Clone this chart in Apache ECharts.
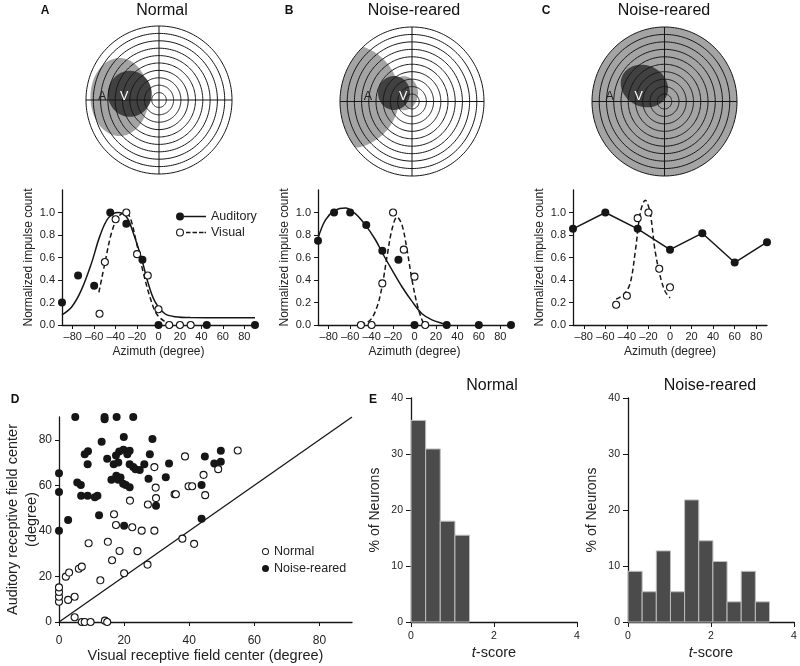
<!DOCTYPE html>
<html><head><meta charset="utf-8">
<script src="https://cdn.jsdelivr.net/npm/echarts@6.0.0/dist/echarts.min.js"></script>
<style>html,body{margin:0;padding:0;background:#fff}#c{width:800px;height:666px}</style>
</head><body><div id="c"></div>
<script>
// ================= DATA =================
// receptive-field diagrams (azimuth/elevation in degrees): [centerAz, centerEl, radiusAz, radiusEl, rotationDeg]
const ringRadii = [9, 18, 27, 36, 45, 54, 63, 72, 81, 90];
const crossLines = [[-90, 0, 90, 0], [0, -90, 0, 90]];
const fieldsA = [[-48.7, 3.6, 35.8, 47.4, 0], [-36, 7.5, 27, 28, 0]];
const fieldsB = [[-81, 6, 65, 63, 0], [-10, 10, 17.5, 20.5, 0], [-22.5, 10.3, 20, 20.5, 0]];
const fieldsC = [[0, 0, 90, 90, 0], [-25, 18.7, 30, 25, -22]];
const fieldShadeA = ['light', 'dark'];
const fieldShadeB = ['light', 'light', 'dark'];
const fieldShadeC = ['light', 'dark'];
const labelPosA = [[-70, 4], [-43, 4]];
const labelPosB = [[-55, 6], [-11, 6]];
const labelPosC = [[-68, 6], [-32, 6]];
const fieldLabels = ['A', 'V'];

// Panel A tuning curves
const azA_aud = [-90, -75, -60, -45, -30, -15, 0, 45, 90];
const valA_aud = [0.20, 0.44, 0.35, 1.0, 0.90, 0.58, 0, 0, 0];
const azA_vis = [-55, -50, -40, -30, -20, -10, 0, 10, 20, 30];
const valA_vis = [0.10, 0.56, 0.94, 1.0, 0.63, 0.44, 0.14, 0, 0, 0];
const fitA_aud_x = [-90, -81, -72, -62.5, -54.7, -46.9, -37.6, -29.8, -23.6, -15.8, -9.6, -3.4, 6, 15.3, 30, 60, 90];
const fitA_aud_y = [0.089, 0.16, 0.31, 0.55, 0.79, 0.95, 1.0, 0.96, 0.82, 0.59, 0.37, 0.21, 0.10, 0.074, 0.066, 0.065, 0.065];
const fitA_vis_x = [-55.6, -50, -43.8, -37.6, -31.3, -26.7, -20.5, -14.3, -8, -1.9, 6, 13.7];
const fitA_vis_y = [0.29, 0.55, 0.82, 0.96, 1.0, 0.96, 0.73, 0.47, 0.25, 0.10, 0.03, 0];

// Panel B tuning curves
const azB_aud = [-90, -75, -60, -45, -30, -15, 0, 30, 60, 90];
const valB_aud = [0.75, 1.0, 1.0, 0.89, 0.66, 0.58, 0, 0, 0, 0];
const azB_vis = [-50, -40, -30, -20, -10, 0, 10];
const valB_vis = [0, 0, 0.37, 1.0, 0.67, 0.43, 0];
const fitB_aud_x = [-90, -83, -73.9, -64.5, -55.2, -45.9, -36.6, -28.8, -21, -11.7, -2.3, 7, 16.3, 27.1, 30];
const fitB_aud_y = [0.77, 0.935, 1.02, 1.04, 0.99, 0.89, 0.76, 0.62, 0.49, 0.34, 0.21, 0.10, 0.045, 0.01, 0];
const fitB_vis_x = [-50.5, -41.2, -35, -30.3, -25.6, -21, -16.3, -11.7, -7, -2.3, 2.3, 7, 10];
const fitB_vis_y = [0, 0.045, 0.16, 0.34, 0.61, 0.85, 0.96, 0.89, 0.67, 0.40, 0.19, 0.045, 0];

// Panel C tuning curves
const azC_aud = [-90, -60, -30, 0, 30, 60, 90];
const valC_aud = [0.855, 1.0, 0.855, 0.67, 0.816, 0.555, 0.736];
const azC_vis = [-50, -40, -30, -20, -10, 0];
const valC_vis = [0.18, 0.26, 0.95, 1.0, 0.50, 0.335];
const fitC_vis_x = [-50, -43, -37, -32, -27.5, -23, -18.5, -14, -9, -4.6, 0];
const fitC_vis_y = [0.23, 0.27, 0.37, 0.67, 1.0, 1.11, 1.0, 0.67, 0.43, 0.30, 0.24];

// Panel D scatter
const normalX = [0, 0, 0, 0, 2.1, 3.1, 2.8, 4.8, 4.8, 6.1, 7, 7, 7.9, 9.7, 14.1, 14.8, 9.1, 12.7, 15, 16.3, 16.9, 17.5, 18.6, 20, 22.5, 21.8, 24.1, 25.4, 27.2, 27.3, 29.3, 29.3, 29.7, 29.8, 35.5, 35.9, 37.9, 38.7, 39.8, 40.9, 41.5, 44.4, 44.9, 48.9, 54.9];
const normalY = [8.9, 11.1, 13.2, 15.2, 19.9, 21.7, 9.7, 11.1, 2.1, 23.4, 24.3, 0, 0, 0, 0.6, 0, 34.6, 18.3, 35.2, 27.1, 47.3, 42.6, 31.2, 21.4, 41.6, 53.3, 31.1, 40.1, 25.2, 51.6, 40.1, 68, 59, 54.4, 56.1, 56.1, 36.6, 72.7, 59.6, 59.6, 34.3, 64.6, 55.7, 67.1, 75.3];
const noiseX = [5, 14, 14, 17.7, 22.8, 28.7, 19.9, 13.1, 8.9, 7.9, 14.8, 17.5, 18.5, 19.8, 21, 21.7, 8.8, 16.8, 18.2, 21.7, 22.8, 23.5, 24.8, 26.2, 27.9, 33.8, 44.8, 47.7, 49.7, 49.7, 32.8, 27.5, 16.1, 17.6, 18.2, 18.9, 19.7, 20.5, 21.7, 5.6, 6.7, 6.8, 8.8, 11, 11.8, 0, 0, 0, 2.8, 12.3, 20, 29.8, 43.8, 43.8];
const noiseY = [90, 90, 89, 90, 90, 80.3, 81.2, 79.1, 75, 73.7, 71.7, 73.1, 74.9, 75.6, 73.7, 75.2, 69.3, 69.3, 70, 69.3, 68, 67.1, 66.7, 69.3, 73.7, 69.6, 72.7, 69.6, 75.2, 70.3, 63.6, 62.9, 62.4, 64.2, 62.4, 63.4, 60.7, 60.2, 59.2, 61.2, 60.1, 55.4, 55.4, 54.8, 55.4, 65.3, 57.1, 40.1, 44.8, 46.9, 42.3, 51, 60.1, 45.3];
const identityLine = [[0, 0], [90, 90]];

// Panel E histograms
const histNormalEdges = [0, 0.353, 0.705, 1.058, 1.41];
const histNormalPct = [36.0, 30.9, 18.0, 15.5];
const histNoiseEdges = [0, 0.341, 0.682, 1.023, 1.364, 1.705, 2.046, 2.387, 2.728, 3.069, 3.41];
const histNoisePct = [9.05, 5.4, 12.7, 5.4, 21.8, 14.5, 10.8, 3.6, 9.05, 3.6];

// tick labels
const azTicks = [-80, -60, -40, -20, 0, 20, 40, 60, 80];
const impTicks = [0, 0.2, 0.4, 0.6, 0.8, 1.0];
const dTicks = [0, 20, 40, 60, 80];

// ================= STYLE / HELPERS =================
const F = 'Liberation Sans, Arial, Helvetica, sans-serif';
const ink = '#161616';
const shade = {light: '#a4a4a4', dark: '#414141'};
const zip = (xs, ys) => xs.map((x, i) => [x, ys[i]]);

function diagramSeries(gi, fields, shades, labelPos) {
  const out = [];
  out.push({
    type: 'custom', xAxisIndex: gi, yAxisIndex: gi, z: 1, silent: true,
    data: fields.map((f, i) => ({value: f})),
    renderItem: (p, api) => {
      const cx = api.value(0), cy = api.value(1), rx = api.value(2), ry = api.value(3), rot = api.value(4) * Math.PI / 180;
      const R = 90, N = 240, pts = [];
      const c = Math.cos(rot), s = Math.sin(rot);
      const inside = (x, y) => { const dx = x - cx, dy = y - cy; const u = dx * c + dy * s, v = -dx * s + dy * c; return u * u / (rx * rx) + v * v / (ry * ry) <= 1 + 1e-6; };
      for (let k = 0; k < N; k++) {
        const t = 2 * Math.PI * k / N;
        const u = rx * Math.cos(t), v = ry * Math.sin(t);
        const x = cx + u * c - v * s, y = cy + u * s + v * c;
        if (x * x + y * y <= R * R + 1e-6) pts.push([x, y]);
        const ox = R * Math.cos(t), oy = R * Math.sin(t);
        if (inside(ox, oy)) pts.push([ox, oy]);
      }
      let mx = 0, my = 0; pts.forEach(q => { mx += q[0]; my += q[1]; }); mx /= pts.length; my /= pts.length;
      pts.sort((a, b) => Math.atan2(a[1] - my, a[0] - mx) - Math.atan2(b[1] - my, b[0] - mx));
      return {type: 'polygon', shape: {points: pts.map(q => api.coord(q))}, style: {fill: shade[shades[p.dataIndex]]}};
    }
  });
  out.push({
    type: 'custom', xAxisIndex: gi, yAxisIndex: gi, z: 2, silent: true,
    data: ringRadii.map(r => [r]),
    renderItem: (p, api) => {
      const r = api.value(0), pts = [];
      for (let k = 0; k < 180; k++) { const t = 2 * Math.PI * k / 180; pts.push(api.coord([r * Math.cos(t), r * Math.sin(t)])); }
      return {type: 'polygon', shape: {points: pts}, style: {fill: 'none', stroke: ink, lineWidth: 1}};
    }
  });
  out.push({
    type: 'custom', xAxisIndex: gi, yAxisIndex: gi, z: 3, silent: true,
    data: crossLines,
    renderItem: (p, api) => {
      const a = api.coord([api.value(0), api.value(1)]), b = api.coord([api.value(2), api.value(3)]);
      return {type: 'line', shape: {x1: a[0], y1: a[1], x2: b[0], y2: b[1]}, style: {stroke: ink, lineWidth: 1}};
    }
  });
  out.push({
    type: 'custom', xAxisIndex: gi, yAxisIndex: gi, z: 4, silent: true,
    data: labelPos,
    renderItem: (p, api) => {
      const a = api.coord([api.value(0), api.value(1)]);
      const t = fieldLabels[p.dataIndex];
      return {type: 'text', x: a[0], y: a[1], style: {text: t, fill: t === 'V' ? '#ffffff' : '#222', fontSize: 12.5, fontFamily: F, align: 'center', verticalAlign: 'middle'}};
    }
  });
  return out;
}

function diagAxis(gi) { return {type: 'value', gridIndex: gi, min: -90, max: 90, show: false}; }

const axLine = {show: true, onZero: false, lineStyle: {color: ink, width: 1.3}};
function lineX(gi) {
  return {type: 'value', gridIndex: gi, min: -90, max: 90,
    axisLine: axLine, splitLine: {show: false},
    axisTick: {show: true, length: 4, customValues: azTicks, lineStyle: {color: ink, width: 1}},
    axisLabel: {customValues: azTicks, fontSize: 11, color: '#222', fontFamily: F, margin: 6, formatter: v => v < 0 ? '\u2013' + (-v) : String(v)},
    name: 'Azimuth (degree)', nameLocation: 'middle', nameGap: 21, nameMoveOverlap: false, nameTextStyle: {fontSize: 12, color: '#222', fontFamily: F}};
}
function lineY(gi) {
  return {type: 'value', gridIndex: gi, min: 0, max: 1.2,
    axisLine: axLine, splitLine: {show: false},
    axisTick: {show: true, length: 4, customValues: impTicks, lineStyle: {color: ink, width: 1}},
    axisLabel: {customValues: impTicks, fontSize: 11, color: '#222', fontFamily: F, margin: 7, formatter: v => v.toFixed(1)},
    name: 'Normalized impulse count', nameLocation: 'middle', nameGap: 27, nameMoveOverlap: false, nameTextStyle: {fontSize: 12, color: '#222', fontFamily: F}};
}
function histX(gi) {
  return {type: 'value', gridIndex: gi, min: 0, max: 4, interval: 2,
    axisLine: axLine, splitLine: {show: false},
    axisTick: {show: true, length: 5, lineStyle: {color: ink}},
    axisLabel: {fontSize: 10.5, color: '#222', fontFamily: F, margin: 9},
    name: '{i|t}-score', nameLocation: 'middle', nameGap: 23, nameMoveOverlap: false,
    nameTextStyle: {fontSize: 14.5, color: '#222', fontFamily: F, rich: {i: {fontStyle: 'italic', fontSize: 14.5, fontFamily: F, color: '#222'}}}};
}
function histY(gi) {
  return {type: 'value', gridIndex: gi, min: 0, max: 40, interval: 10,
    axisLine: axLine, splitLine: {show: false},
    axisTick: {show: true, length: 5, lineStyle: {color: ink}},
    axisLabel: {fontSize: 10.5, color: '#222', fontFamily: F, margin: 8},
    name: '% of Neurons', nameLocation: 'middle', nameGap: 29, nameMoveOverlap: false, nameTextStyle: {fontSize: 14, color: '#222', fontFamily: F}};
}
function histSeries(gi, edges, pct) {
  return {type: 'custom', xAxisIndex: gi, yAxisIndex: gi, silent: true,
    data: pct.map((v, i) => [edges[i], edges[i + 1], v]),
    encode: {x: [0, 1], y: 2},
    renderItem: (p, api) => {
      const a = api.coord([api.value(0), api.value(2)]), b = api.coord([api.value(1), 0]);
      return {type: 'rect', shape: {x: a[0], y: a[1], width: b[0] - a[0], height: b[1] - a[1]}, style: {fill: '#4b4b4b', stroke: '#bdbdbd', lineWidth: 1}};
    }};
}

const filled = (name, gi, data, size) => ({name, type: 'scatter', xAxisIndex: gi, yAxisIndex: gi, data, symbol: 'circle', symbolSize: size || 8, z: 5, itemStyle: {color: ink, borderWidth: 0, opacity: 1}, silent: true});
const open = (name, gi, data, size) => ({name, type: 'scatter', xAxisIndex: gi, yAxisIndex: gi, data, symbol: 'circle', symbolSize: size || 7, z: 6, itemStyle: {color: '#fff', borderColor: ink, borderWidth: 1.1, opacity: 1}, silent: true});
const curve = (name, gi, data, dashed, smooth) => ({name, type: 'line', xAxisIndex: gi, yAxisIndex: gi, data, smooth: smooth === undefined ? 0.35 : smooth, symbol: 'circle', showSymbol: false, z: 4, color: ink, itemStyle: {color: ink, borderWidth: 0}, lineStyle: {color: ink, width: 1.5, type: dashed ? [5, 3] : 'solid'}, silent: true});

const txt = (x, y, t, size, bold) => ({type: 'text', x, y, silent: true, style: {text: t, fill: '#111', fontSize: size, fontWeight: bold ? 'bold' : 'normal', fontFamily: F, align: 'center', verticalAlign: 'middle'}});

// ================= OPTION =================
const grids = [
  {left: 86, top: 26, width: 146, height: 148},
  {left: 340, top: 27, width: 144, height: 149},
  {left: 592, top: 27, width: 145, height: 149},
  {left: 62, top: 190, width: 193, height: 135},
  {left: 318, top: 190, width: 193, height: 135},
  {left: 573, top: 190, width: 194, height: 135},
  {left: 59, top: 417, width: 293, height: 205},
  {left: 411, top: 398, width: 166, height: 224},
  {left: 628, top: 398, width: 166, height: 224}
].map(g => Object.assign({outerBoundsMode: 'none', containLabel: false}, g));

const ringIcon = 'path://M0,4A4,4 0 1 1 8,4A4,4 0 1 1 0,4Z M1.1,4A2.9,2.9 0 1 0 6.9,4A2.9,2.9 0 1 0 1.1,4Z';
const option = {
  animation: false,
  backgroundColor: '#fff',
  textStyle: {fontFamily: F},
  grid: grids,
  xAxis: [diagAxis(0), diagAxis(1), diagAxis(2), lineX(3), lineX(4), lineX(5),
    {type: 'value', gridIndex: 6, min: 0, max: 90, axisLine: axLine, splitLine: {show: false},
      axisTick: {show: true, length: 4, customValues: dTicks, lineStyle: {color: ink}},
      axisLabel: {customValues: dTicks, fontSize: 12, color: '#222', fontFamily: F, margin: 13},
      name: 'Visual receptive field center (degree)', nameLocation: 'middle', nameGap: 26, nameMoveOverlap: false, nameTextStyle: {fontSize: 14.5, color: '#222', fontFamily: F}},
    histX(7), histX(8)],
  yAxis: [diagAxis(0), diagAxis(1), diagAxis(2), lineY(3), lineY(4), lineY(5),
    {type: 'value', gridIndex: 6, min: 0, max: 90, axisLine: axLine, splitLine: {show: false},
      axisTick: {show: true, length: 4, customValues: dTicks, lineStyle: {color: ink}},
      axisLabel: {customValues: dTicks, fontSize: 12, color: '#222', fontFamily: F, margin: 7},
      name: 'Auditory receptive field center\n(degree)', nameLocation: 'middle', nameGap: 18, nameMoveOverlap: false, nameTextStyle: {fontSize: 14.5, lineHeight: 19, color: '#222', fontFamily: F}},
    histY(7), histY(8)],
  legend: [
    {left: 171, top: 205, orient: 'vertical', itemWidth: 30, itemHeight: 8, itemGap: 3, selectedMode: false,
      textStyle: {fontSize: 12.5, color: '#222', fontFamily: F},
      itemStyle: {borderWidth: 0},
      data: [
        {name: 'Auditory', icon: 'path://M0,4A4,4 0 1 1 8,4A4,4 0 1 1 0,4Z M8,3.35H30V4.65H8Z'},
        {name: 'Visual', icon: 'path://M0,4A4,4 0 1 1 8,4A4,4 0 1 1 0,4Z M1.1,4A2.9,2.9 0 1 0 6.9,4A2.9,2.9 0 1 0 1.1,4Z M10,3.35H14.5V4.65H10Z M16.5,3.35H21V4.65H16.5Z M23,3.35H27.5V4.65H23Z M28.5,3.35H30V4.65H28.5Z'}
      ]},
    {left: 257, top: 540, orient: 'vertical', itemWidth: 7, itemHeight: 7, itemGap: 4, selectedMode: false,
      textStyle: {fontSize: 12.5, color: '#222', fontFamily: F},
      data: [
        {name: 'Normal', icon: ringIcon, itemStyle: {color: ink, borderWidth: 0, opacity: 1}},
        {name: 'Noise-reared', icon: 'circle', itemStyle: {color: ink, borderWidth: 0, opacity: 1}}
      ]}
  ],
  series: [
    ...diagramSeries(0, fieldsA, fieldShadeA, labelPosA),
    ...diagramSeries(1, fieldsB, fieldShadeB, labelPosB),
    ...diagramSeries(2, fieldsC, fieldShadeC, labelPosC),
    curve('Auditory', 3, zip(fitA_aud_x, fitA_aud_y), false),
    curve('Visual', 3, zip(fitA_vis_x, fitA_vis_y), true),
    filled('A auditory', 3, zip(azA_aud, valA_aud)),
    open('A visual', 3, zip(azA_vis, valA_vis)),
    curve('B auditory fit', 4, zip(fitB_aud_x, fitB_aud_y), false),
    curve('B visual fit', 4, zip(fitB_vis_x, fitB_vis_y), true),
    filled('B auditory', 4, zip(azB_aud, valB_aud)),
    open('B visual', 4, zip(azB_vis, valB_vis)),
    curve('C auditory line', 5, zip(azC_aud, valC_aud), false, false),
    curve('C visual fit', 5, zip(fitC_vis_x, fitC_vis_y), true),
    filled('C auditory', 5, zip(azC_aud, valC_aud)),
    open('C visual', 5, zip(azC_vis, valC_vis)),
    {name: 'identity', type: 'line', xAxisIndex: 6, yAxisIndex: 6, data: identityLine, symbol: 'none', lineStyle: {color: ink, width: 1.3}, silent: true, z: 2},
    open('Normal', 6, zip(normalX, normalY), 7),
    filled('Noise-reared', 6, zip(noiseX, noiseY), 8),
    histSeries(7, histNormalEdges, histNormalPct),
    histSeries(8, histNoiseEdges, histNoisePct)
  ],
  graphic: [
    txt(45, 11, 'A', 12, true), txt(289, 11, 'B', 12, true), txt(546, 11, 'C', 12, true),
    txt(15, 400, 'D', 12, true), txt(373, 400, 'E', 12, true),
    txt(162, 11, 'Normal', 16), txt(414, 11, 'Noise-reared', 16), txt(664, 11, 'Noise-reared', 16),
    txt(492, 386, 'Normal', 16), txt(710, 386, 'Noise-reared', 16)
  ]
};
const chart = echarts.init(document.getElementById('c'), null, {renderer: 'canvas'});
chart.setOption(option);
</script>
</body></html>
